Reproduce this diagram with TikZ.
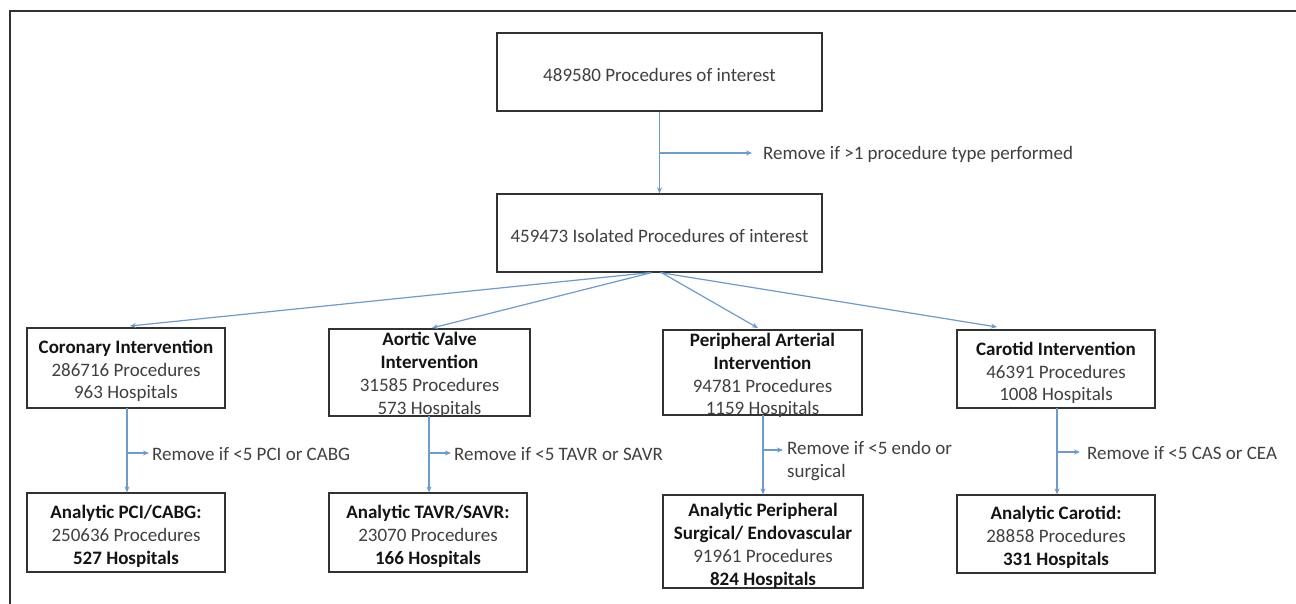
\documentclass[tikz,border=0pt]{standalone}
\usepackage{fontspec}
\setmainfont{Carlito}
\usetikzlibrary{arrows.meta,calc}
\definecolor{arrblue}{RGB}{108,156,204}
\definecolor{boxline}{RGB}{50,50,50}
\definecolor{txtgray}{RGB}{64,64,64}
\definecolor{txtbold}{RGB}{20,20,20}
\begin{document}
\begin{tikzpicture}[x=1pt,y=-1pt,
  box/.style={draw=boxline,line width=1.3pt,rectangle,inner sep=0pt},
  txt/.style={text=txtgray,align=center,font=\fontsize{19}{22.8}\selectfont,inner sep=0pt},
  lbl/.style={text=txtgray,align=left,font=\fontsize{19}{23.5}\selectfont,inner sep=0pt,anchor=west},
  arr/.style={draw=arrblue,line width=1.2pt,-{Stealth[length=6pt,width=5pt]}},
  ln/.style={draw=arrblue,line width=1.2pt}]
\useasboundingbox (0,0) rectangle (1296,604);
\fill[white] (0,0) rectangle (1296,604);
\draw[boxline,line width=1.6pt] (1296,11) -- (10,11) -- (10,604);
\newcommand{\hb}[1]{\textbf{\color{txtbold}#1}}
% top boxes
\node[box,minimum width=325pt,minimum height=78pt] (top) at (659.5,72) {};
\node[txt] (ttop) at (659.5,75) {489580 Procedures of interest};
\node[box,minimum width=325pt,minimum height=78pt] (iso) at (659.5,233) {};
\node[txt] (tiso) at (659.5,236) {459473 Isolated Procedures of interest};
% intervention boxes
\node[box,minimum width=198pt,minimum height=80pt] (b1) at (126,368) {};
\node[txt] (tb1) at (126,371) {\hb{Coronary Intervention}\\286716 Procedures\\963 Hospitals};
\node[box,minimum width=201pt,minimum height=87pt] (b2) at (429.5,372.5) {};
\node[txt] (tb2) at (429.5,375) {\hb{Aortic Valve}\\\hb{Intervention}\\31585 Procedures\\573 Hospitals};
\node[box,minimum width=199pt,minimum height=85pt] (b3) at (762.5,372.5) {};
\node[txt] (tb3) at (762.5,375.5) {\hb{Peripheral Arterial}\\\hb{Intervention}\\94781 Procedures\\1159 Hospitals};
\node[box,minimum width=198pt,minimum height=78pt] (b4) at (1056,369) {};
\node[txt] (tb4) at (1056,373) {\hb{Carotid Intervention}\\46391 Procedures\\1008 Hospitals};
% analytic boxes
\node[box,minimum width=198pt,minimum height=79pt] (c1) at (126,532.5) {};
\node[txt] (tc1) at (126,536.5) {\hb{Analytic PCI/CABG:}\\250636 Procedures\\\hb{527 Hospitals}};
\node[box,minimum width=198pt,minimum height=79pt] (c2) at (428,532.5) {};
\node[txt] (tc2) at (428,536.5) {\hb{Analytic TAVR/SAVR:}\\23070 Procedures\\\hb{166 Hospitals}};
\node[box,minimum width=200pt,minimum height=93pt] (c3) at (763,541.5) {};
\node[txt] (tc3) at (763,546) {\hb{Analytic Peripheral}\\\hb{Surgical/ Endovascular}\\91961 Procedures\\\hb{824 Hospitals}};
\node[box,minimum width=198pt,minimum height=78pt] (c4) at (1056,534) {};
\node[txt] (tc4) at (1056,537.5) {\hb{Analytic Carotid:}\\28858 Procedures\\\hb{331 Hospitals}};
% top connectors
\draw[arr] (top.south) -- (iso.north);
\coordinate (br0) at (659.5,153);
\coordinate (tip0) at (752,153);
\draw[arr] (br0) -- (tip0);
\node[lbl] (l0) at (763,154) {Remove if >1 procedure type performed};
% fan
\coordinate (f1) at (130,326);
\coordinate (f2) at (432,328);
\coordinate (f3) at (758,328);
\coordinate (f4) at (997,327);
\draw[arr] ([xshift=-10pt]iso.south) -- (f1);
\draw[arr] ([xshift=-8pt]iso.south) -- (f2);
\draw[arr] ([xshift=2pt]iso.south) -- (f3);
\draw[arr] ([xshift=1pt]iso.south) -- (f4);
% lower connectors
\coordinate (v1) at (127,408);
\draw[arr] (v1) -- (v1 |- c1.north);
\coordinate (br1) at (127,453); \coordinate (tp1) at (149,453);
\draw[arr] (br1) -- (tp1);
\node[lbl] (l1) at (152,454) {Remove if <5 PCI or CABG};
\coordinate (v2) at (429,416);
\draw[arr] (v2) -- (v2 |- c2.north);
\coordinate (br2) at (429,453); \coordinate (tp2) at (451,453);
\draw[arr] (br2) -- (tp2);
\node[lbl] (l2) at (454,454) {Remove if <5 TAVR or SAVR};
\coordinate (v3) at (763,415);
\draw[arr] (v3) -- (v3 |- c3.north);
\coordinate (br3) at (763,450); \coordinate (tp3) at (783,450);
\draw[arr] (br3) -- (tp3);
\node[lbl,anchor=north west] (l3) at (787,441) {Remove if <5 endo or\\surgical};
\coordinate (v4) at (1057,408);
\draw[arr] (v4) -- (v4 |- c4.north);
\coordinate (br4) at (1057,452); \coordinate (tp4) at (1080,452);
\draw[arr] (br4) -- (tp4);
\node[lbl] (l4) at (1087,453) {Remove if <5 CAS or CEA};
\end{tikzpicture}
\end{document}
